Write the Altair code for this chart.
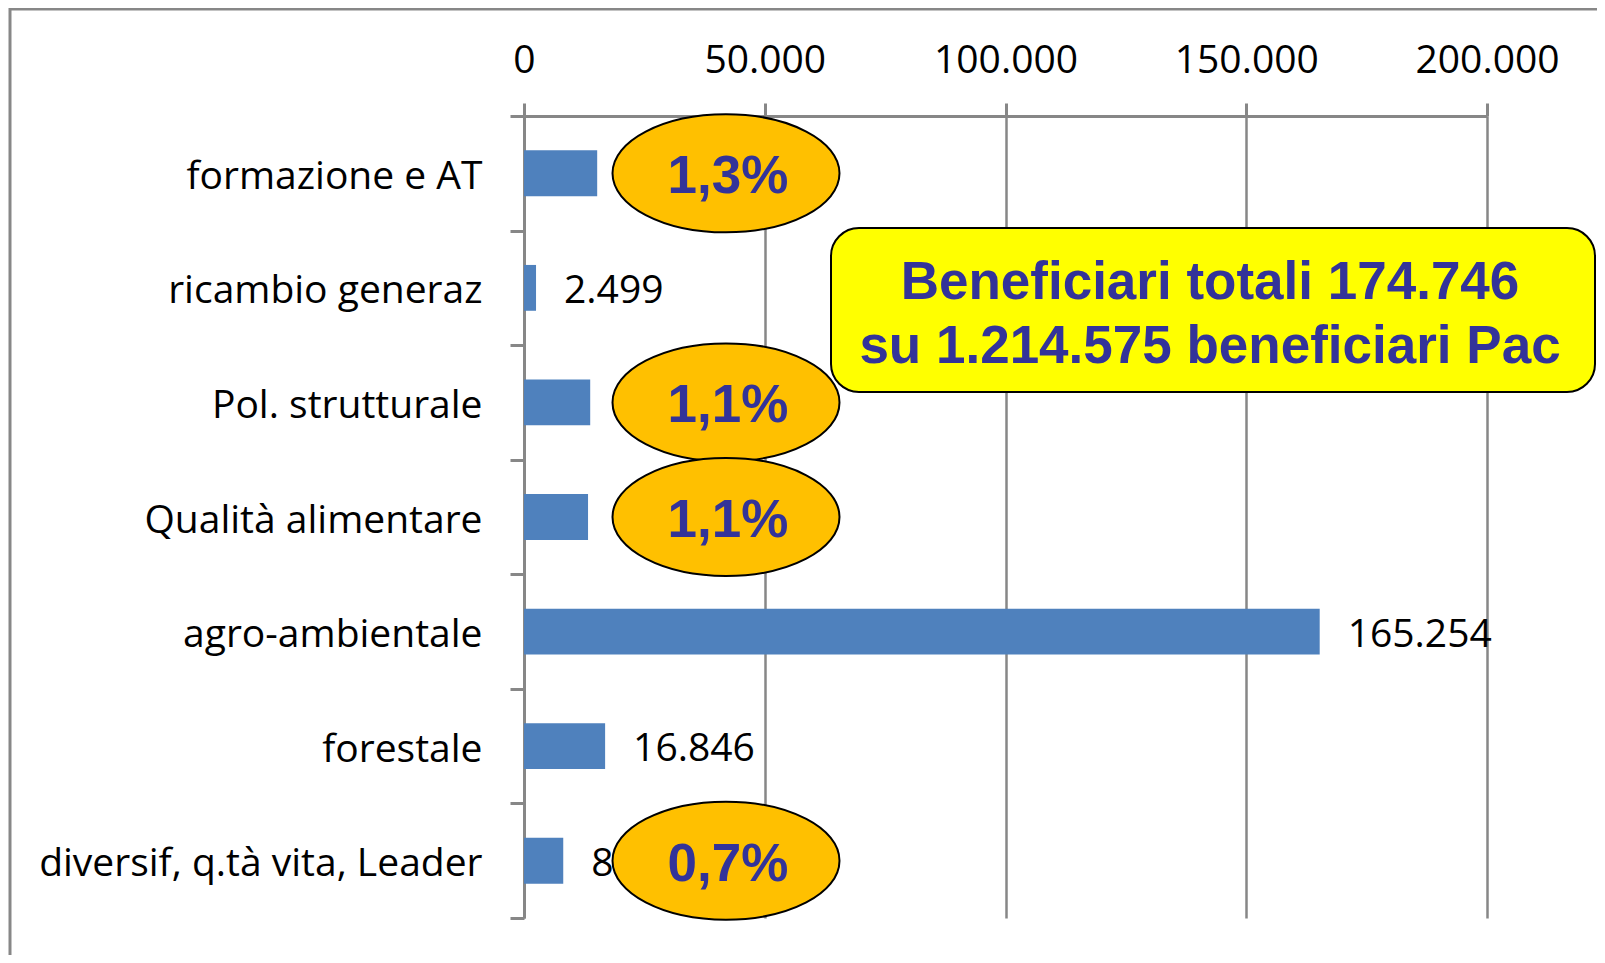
import altair as alt
import pandas as pd

# ---- data ----
CATEGORIES = [
    "formazione e AT",
    "ricambio generaz",
    "Pol. strutturale",
    "Qualità alimentare",
    "agro-ambientale",
    "forestale",
    "diversif, q.tà vita, Leader",
]
VALUES = [15200, 2499, 13750, 13300, 165254, 16846, 8150]
X_TICKS = [0, 50000, 100000, 150000, 200000]

ANNOT_CATS = ["formazione e AT", "Pol. strutturale", "Qualità alimentare", "diversif, q.tà vita, Leader"]
ANNOT_TEXT = ["1,3%", "1,1%", "1,1%", "0,7%"]

BOX_LINES = ["Beneficiari totali 174.746", "su 1.214.575 beneficiari Pac"]

# ---- style ----
BAR_COLOR = "#4F81BD"
GRAY = "#878787"
ORANGE = "#FFC000"
BLUE_TXT = "#333399"
LABEL_FONT = "Open Sans"
BOLD_FONT = "Liberation Sans"
FS = 39

W, H = 963, 802

def it_fmt(v):
    return f"{v:,}".replace(",", ".")

bars_df = pd.DataFrame({"cat": CATEGORIES, "val": VALUES,
                        "lab": [it_fmt(v) for v in VALUES]})
annot_df = pd.DataFrame({"cat": ANNOT_CATS, "txt": ANNOT_TEXT})
one_row = pd.DataFrame({"k": [0]})

y_enc = alt.Y(
    "cat:N",
    sort=CATEGORIES,
    scale=alt.Scale(paddingInner=0, paddingOuter=0),
    axis=alt.Axis(
        title=None,
        orient="left",
        domainColor=GRAY,
        domainWidth=3,
        tickBand="extent",
        tickColor=GRAY,
        tickWidth=3,
        tickSize=14,
        labelFont=LABEL_FONT,
        labelFontSize=FS,
        labelColor="black",
        labelPadding=28,
        labelBaseline="alphabetic",
        labelOffset=15,
        labelLimit=700,
        grid=False,
    ),
)

x_enc = alt.X(
    "val:Q",
    scale=alt.Scale(domain=[0, 200000], nice=False),
    axis=alt.Axis(
        title=None,
        orient="top",
        values=X_TICKS,
        labelExpr="replace(format(datum.value, ','), ',', '.')",
        grid=True,
        gridColor=GRAY,
        gridWidth=2.5,
        domainColor=GRAY,
        domainWidth=3,
        tickColor=GRAY,
        tickWidth=3,
        tickSize=13,
        labelFont=LABEL_FONT,
        labelFontSize=FS,
        labelColor="black",
        labelBaseline="alphabetic",
        labelPadding=31,
        labelFlush=False,
        labelOverlap=False,
        labelBound=False,
    ),
)

frame = alt.Chart(one_row).mark_rect(
    fillOpacity=0, stroke=GRAY, strokeWidth=3
).encode(
    x=alt.value(-514), x2=alt.value(1300),
    y=alt.value(-107), y2=alt.value(1000),
)

bars = alt.Chart(bars_df).mark_bar(
    color=BAR_COLOR, height=alt.RelativeBandSize(0.4)
).encode(x=x_enc, y=y_enc)

labels = alt.Chart(bars_df).mark_text(
    align="left", baseline="alphabetic", dx=28, dy=15,
    font=LABEL_FONT, fontSize=FS, color="black",
).encode(x="val:Q", y=alt.Y("cat:N", sort=CATEGORIES), text="lab:N")

ELLIPSE = ("M -1 0 C -1 -0.2872 -0.5523 -0.52 0 -0.52 "
           "C 0.5523 -0.52 1 -0.2872 1 0 "
           "C 1 0.2872 0.5523 0.52 0 0.52 "
           "C -0.5523 0.52 -1 0.2872 -1 0 Z")

ellipses = alt.Chart(annot_df).mark_point(
    shape=ELLIPSE, size=227 * 227, filled=True, fill=ORANGE, fillOpacity=1,
    stroke="black", strokeWidth=2, opacity=1,
).encode(x=alt.value(202), y=alt.Y("cat:N", sort=CATEGORIES))

ell_text = alt.Chart(annot_df).mark_text(
    align="center", baseline="alphabetic", dy=20,
    font=BOLD_FONT, fontWeight="bold", fontSize=53, color=BLUE_TXT,
).encode(x=alt.value(204), y=alt.Y("cat:N", sort=CATEGORIES), text="txt:N")

box = alt.Chart(one_row).mark_rect(
    fill="#FFFF00", stroke="black", strokeWidth=2, cornerRadius=28,
).encode(x=alt.value(307), x2=alt.value(1071), y=alt.value(112), y2=alt.value(276))

box_text = alt.Chart(one_row).mark_text(
    text=BOX_LINES, align="center", baseline="alphabetic", lineHeight=64,
    font=BOLD_FONT, fontWeight="bold", fontSize=53, color=BLUE_TXT,
).encode(x=alt.value(686), y=alt.value(183))

chart = alt.layer(
    frame, bars, labels, ellipses, ell_text, box, box_text
).properties(
    width=W, height=H,
    autosize=alt.AutoSizeParams(type="none"),
    padding={"left": 516, "top": 108, "right": 110, "bottom": 37},
    background="white",
).configure_view(strokeWidth=0)

chart.save("out.html", embed_options={"renderer": "svg", "actions": False})
